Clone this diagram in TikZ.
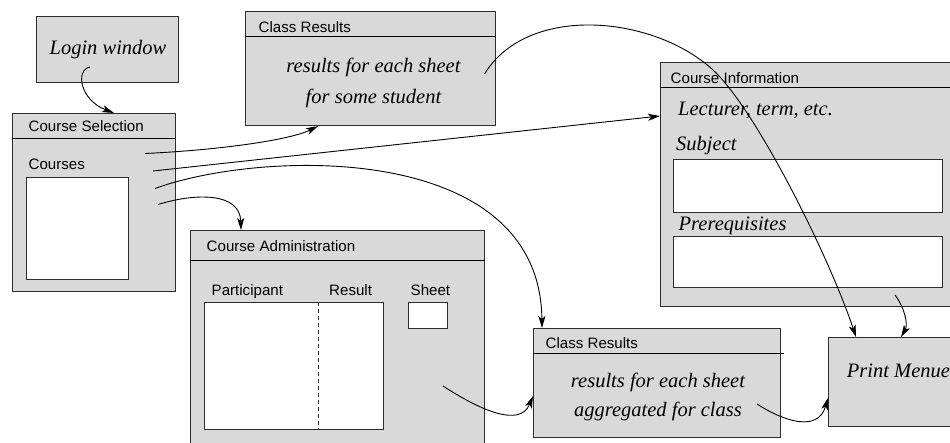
\documentclass[tikz,border=0pt]{standalone}
\usepackage{fontspec}
\setmainfont{Liberation Serif}
\newfontfamily\guifont{Liberation Sans}
\usetikzlibrary{arrows.meta}
\definecolor{ink}{RGB}{45,45,45}
\definecolor{panel}{RGB}{217,217,217}
\tikzset{
  win/.style={draw=ink,fill=panel,line width=1.1pt,anchor=north west,inner sep=0pt},
  field/.style={draw=ink,fill=white,line width=1.1pt,anchor=north west,inner sep=0pt},
  hline/.style={draw=black,line width=1pt},
  title/.style={font=\guifont\fontsize{15.1}{18}\selectfont,anchor=base west,inner sep=0pt},
  note/.style={font=\itshape\fontsize{20.5}{24}\selectfont,inner sep=0pt},
  ar/.style={-{Stealth[length=12pt,width=7pt,inset=3pt]},line width=0.9pt},
}

\begin{document}
\begin{tikzpicture}[x=1pt,y=-1pt]
  \useasboundingbox (0,0) rectangle (950,442);
  % windows
  \node[win,minimum width=142,minimum height=66] (login) at (36,16) {};
  \node[win,minimum width=250,minimum height=114] (crtop) at (245,11) {};
  \node[win,minimum width=163,minimum height=178] (csel) at (12,113) {};
  \node[win,minimum width=294,minimum height=240] (cadm) at (190,230) {};
  \node[win,minimum width=310,minimum height=244] (cinfo) at (660,62) {};
  \node[win,minimum width=247,minimum height=109] (crbot) at (533,328) {};
  \node[win,minimum width=140,minimum height=89] (print) at (828,337) {};
  \foreach \w/\h in {crtop/25,csel/25,cadm/30,cinfo/25}
    \draw[hline] ([yshift=-\h]\w.north west) -- ([yshift=-\h]\w.north east);
  \draw[hline] ([yshift=-25]crbot.north west) -- ([xshift=3,yshift=-25]crbot.north east);
  % fields
  \node[field,minimum width=102,minimum height=102] (clist) at (25.5,176.5) {};
  \node[field,minimum width=179,minimum height=127] (plist) at (203.5,302) {};
  \node[field,minimum width=39,minimum height=25.5] (sheet) at (407.5,302) {};
  \node[field,minimum width=268.5,minimum height=53.5] (subj) at (673,158.5) {};
  \node[field,minimum width=268.5,minimum height=51] (prereq) at (673,235.5) {};
  \draw[ink,line width=1pt,dash pattern=on 4pt off 3pt]
    ([xshift=115]plist.north west) -- ([xshift=115]plist.south west);
  % captions
  \node[title] (cselT) at (28.5,131.7) {Course Selection};
  \node[title] (coursesT) at (28.5,169.3) {Courses};
  \node[title] (crtopT) at (258.5,32) {Class Results};
  \node[title] (cadmT) at (206.5,251) {Course Administration};
  \node[title] (partT) at (211.5,295) {Participant};
  \node[title] (resT) at (329,295) {Result};
  \node[title] (sheetT) at (410.5,295) {Sheet};
  \node[title] (cinfoT) at (670.5,83.3) {Course Information};
  \node[title] (crbotT) at (545.5,348) {Class Results};
  % contents
  \node[note,anchor=base] (loginT) at (108,54) {Login window};
  \node[note,anchor=base] (sheetA) at (373.5,72.7) {results for each sheet};
  \node[note,anchor=base] (studA) at (373.5,103) {for some student};
  \node[note,anchor=base west] (lectT) at (678,115) {Lecturer, term, etc.};
  \node[note,anchor=base west] (subjT) at (676,150) {Subject};
  \node[note,anchor=base west] (preT) at (678.5,230) {Prerequisites};
  \node[note,anchor=base] (sheetB) at (658,387.7) {results for each sheet};
  \node[note,anchor=base] (classB) at (658,416.7) {aggregated for class};
  \node[note,anchor=base west] (printT) at (846.7,377.7) {Print Menue};
  % connector starts
  \coordinate (lwS) at (90,67);
  \coordinate (cs1) at (145,153.5);
  \coordinate (cs2) at (153,171);
  \coordinate (cs3) at (155,188.5);
  \coordinate (cs4) at (158,204.5);
  \coordinate (crS) at (484.5,74);
  \coordinate (caS) at (443,386);
  \coordinate (cbS) at (757,404);
  \coordinate (ciS) at (895,295);
  % connectors
  \draw[ar] (lwS) .. controls (75,70) and (80,100) .. ([xshift=102]csel.north west);
  \draw[ar] (cs1) .. controls (220,150) and (290,140) .. ([xshift=73]crtop.south west);
  \draw[ar] (cs2) -- ([yshift=-54]cinfo.north west);
  \draw[ar] (cs3) .. controls (260,150) and (540,140) .. ([xshift=9]crbot.north west);
  \draw[ar] (cs4) .. controls (195,193) and (240,192) .. ([xshift=51]cadm.north west);
  \draw[ar] (crS) .. controls (530,0) and (665,17) .. (720,77)
    .. controls (765,127) and (831,262) .. ([xshift=28]print.north west);
  \draw[ar] (caS) .. controls (480,410) and (520,428) .. ([yshift=-68]crbot.north west);
  \draw[ar] (cbS) .. controls (785,422) and (818,432) .. ([yshift=-61]print.north west);
  \draw[ar] (ciS) .. controls (905,308) and (908,325) .. ([xshift=73]print.north west);
\end{tikzpicture}
\end{document}
